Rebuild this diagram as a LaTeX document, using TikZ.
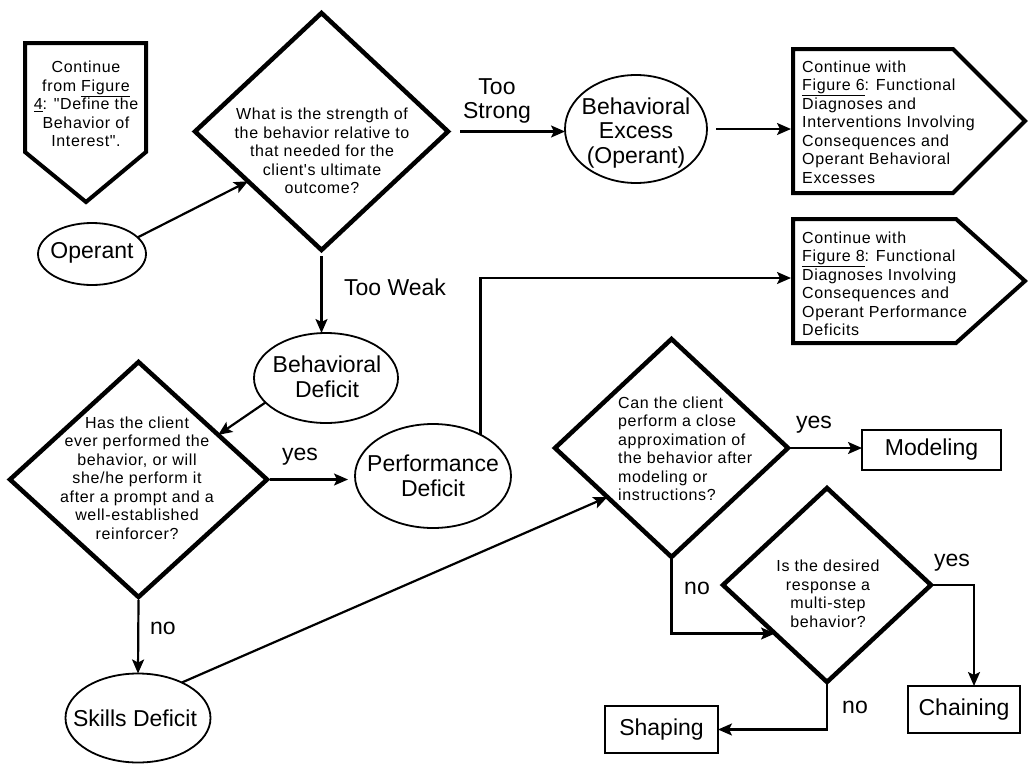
\documentclass[tikz,border=0pt]{standalone}
\usepackage{fontspec}
\setmainfont{Liberation Sans}
\newfontfamily\smallfam{Liberation Sans}[LetterSpace=4]
\usetikzlibrary{shapes.geometric,arrows.meta,calc}
\begin{document}
\begin{tikzpicture}[x=1pt,y=-1pt,
  dianode/.style={diamond, draw, line width=4.5pt, inner sep=0pt, outer sep=0pt},
  ellnode/.style={ellipse, draw, line width=1.8pt, inner sep=0pt, outer sep=0pt},
  boxnode/.style={rectangle, draw, line width=2.5pt, inner sep=0pt, outer sep=0pt, font=\fontsize{23}{24.5}\selectfont},
  pentrect/.style={rectangle, inner sep=0pt, outer sep=0pt},
  pentline/.style={line width=4pt, line join=miter},
  arrline/.style={line width=2.2pt, -{Stealth[length=14pt,width=12pt,inset=3pt]}},
  bigtxt/.style={font=\fontsize{23}{24.5}\selectfont, align=center, inner sep=0pt},
  smalltxt/.style={font=\smallfam\fontsize{16}{18.5}\selectfont, inner sep=0pt}
]
\useasboundingbox (0,0) rectangle (1028,763);

% top-left pentagon
\node[pentrect, minimum width=121pt, minimum height=109pt] (P0) at (85.5,97.5) {};
\coordinate (P0tip) at (86,202);
\draw[pentline] (P0.north west) -- (P0.north east) -- (P0.south east) -- (P0tip) -- (P0.south west) -- cycle;
\node[smalltxt, align=center] (P0t) at (86,104) {Continue\\from \underline{Figure}\\\underline{4}: "Define the\\Behavior of\\Interest".};

% right pentagons
\node[pentrect, minimum width=160pt, minimum height=144pt] (P1) at (873,121) {};
\coordinate (P1tip) at (1025,121);
\draw[pentline] (P1.north west) -- (P1.north east) -- (P1tip) -- (P1.south east) -- (P1.south west) -- cycle;
\node[smalltxt, align=left, anchor=west] (P1t) at (802,122) {Continue with\\\underline{Figure 6}: Functional\\Diagnoses and\\Interventions Involving\\Consequences and\\Operant Behavioral\\Excesses};

\node[pentrect, minimum width=163pt, minimum height=124pt] (P2) at (874.5,281) {};
\coordinate (P2tip) at (1025,281);
\draw[pentline] (P2.north west) -- (P2.north east) -- (P2tip) -- (P2.south east) -- (P2.south west) -- cycle;
\node[smalltxt, align=left, anchor=west] (P2t) at (802,284) {Continue with\\\underline{Figure 8}: Functional\\Diagnoses Involving\\Consequences and\\Operant Performance\\Deficits};

% diamonds
\node[dianode, minimum width=253pt, minimum height=237pt] (A) at (321.5,131.5) {};
\node[smalltxt, align=center] (At) at (322,151) {What is the strength of\\the behavior relative to\\that needed for the\\client's ultimate\\outcome?};

\node[dianode, minimum width=257pt, minimum height=235pt] (B) at (138.5,479.5) {};
\node[smalltxt, align=center] (Bt) at (137,478) {Has the client\\ever performed the\\behavior, or will\\she/he perform it\\after a prompt and a\\well-established\\reinforcer?};

\node[dianode, minimum width=233pt, minimum height=218pt] (C) at (671.5,448) {};
\node[smalltxt, align=left, anchor=west] (Ct) at (618,449) {Can the client\\perform a close\\approximation of\\the behavior after\\modeling or\\instructions?};

\node[dianode, minimum width=208pt, minimum height=194pt] (D) at (827,585) {};
\node[smalltxt, align=center] (Dt) at (828,594) {Is the desired\\response a\\multi-step\\behavior?};

% ellipses
\node[ellnode, minimum width=108pt, minimum height=62pt] (Op) at (92,254) {};
\node[bigtxt] (Opt) at (92,253) {Operant};

\node[ellnode, minimum width=142pt, minimum height=108pt] (BE) at (636,129) {};
\node[bigtxt] (BEt) at (636,133) {Behavioral\\Excess\\(Operant)};

\node[ellnode, minimum width=144pt, minimum height=90pt] (BD) at (326,378) {};
\node[bigtxt] (BDt) at (327,377) {Behavioral\\Deficit};

\node[ellnode, minimum width=156pt, minimum height=104pt] (PD) at (433,476) {};
\node[bigtxt] (PDt) at (433,476) {Performance\\Deficit};

\node[ellnode, minimum width=145pt, minimum height=89pt] (SD) at (138,718) {};
\node[bigtxt] (SDt) at (135,718) {Skills Deficit};

% boxes
\node[boxnode, minimum width=139pt, minimum height=40pt] (Mod) at (931.5,450) {Modeling};
\node[boxnode, minimum width=112pt, minimum height=47pt] (Chain) at (964,709.5) {Chaining};
\node[boxnode, minimum width=113pt, minimum height=47pt] (Shap) at (661.5,729.5) {Shaping};

% labels
\node[bigtxt] (TS) at (497,101) {Too\\Strong};
\node[bigtxt] (TW) at (395,287) {Too Weak};
\node[bigtxt] (y1) at (300,457) {yes};
\node[bigtxt] (n1) at (163,628) {no};
\node[bigtxt] (y2) at (814,425) {yes};
\node[bigtxt] (n2) at (697,588) {no};
\node[bigtxt] (y3) at (952,563) {yes};
\node[bigtxt] (n3) at (855,707) {no};

% connectors
\draw[arrline] (Op.20) -- ($(A.west)!0.42!(A.south)$);
\draw[arrline] ([xshift=12pt]A.east) -- (A.east -| BE.west);
\draw[arrline] ([xshift=9pt]BE.east) -- ([xshift=-2pt]BE.east -| P1.west);
\draw[arrline] ([yshift=-6pt]A.south) -- (A.south |- BD.north);
\draw[arrline] (BD.202) -- ($(B.north)!0.62!(B.east)$);
\draw[arrline] ([xshift=3pt]B.east) -- ([xshift=-7pt]B.east -| PD.west);
\draw[arrline] (PD.41) |- ([yshift=3pt,xshift=-2pt]P2.west);
\draw[arrline] ([yshift=-3pt]B.south) -- (SD.north);
\draw[arrline] (SD.39) -- ($(C.west)!0.45!(C.south)$);
\draw[arrline] ([xshift=2pt]C.east) -- (C.east -| Mod.west);
\draw[arrline] (C.south) |- ($(D.west)!0.5!(D.south)$);
\draw[arrline] (D.east) -| ([xshift=10pt]Chain.north);
\draw[arrline] (D.south) |- (Shap.east);
\end{tikzpicture}
\end{document}
